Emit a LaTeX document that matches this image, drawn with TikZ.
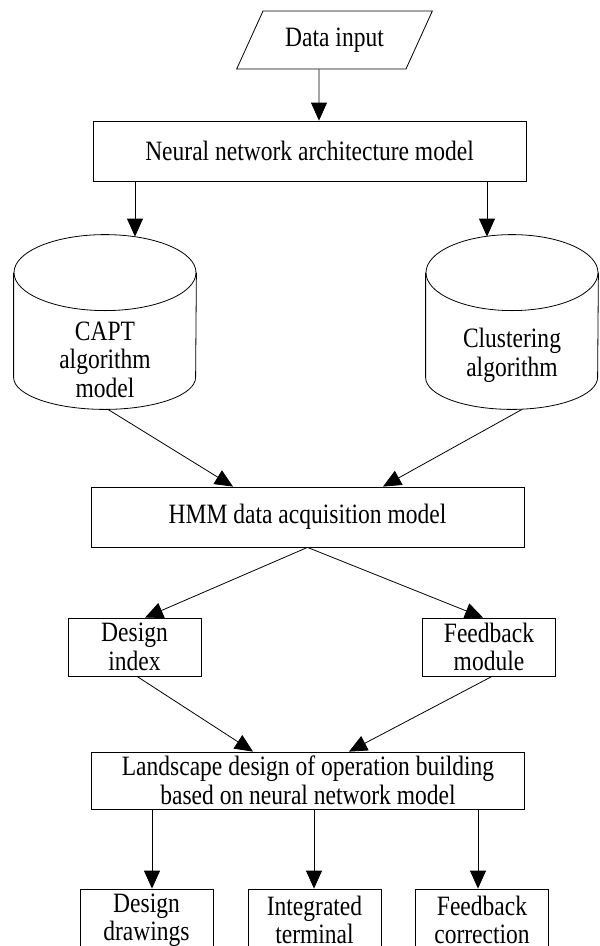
\documentclass[tikz,border=0pt]{standalone}
\usepackage{fontspec}
\setmainfont{Liberation Serif}[FakeStretch=0.84]
\usetikzlibrary{shapes.geometric,arrows.meta}

\begin{document}
\begin{tikzpicture}[x=1pt,y=-1pt,line width=0.8pt,font=\fontsize{28}{28.5}\selectfont,
	box/.style={rectangle,draw,align=center,inner sep=1pt},
	widebox/.style={box,minimum width=433pt,minimum height=60pt},
	smallbox/.style={box,minimum width=133pt,minimum height=58pt},
	iobox/.style={trapezium,draw,trapezium stretches=true,trapezium left angle=55,trapezium right angle=125,minimum width=196pt,minimum height=58pt,inner sep=1pt},
	dbase/.style={rectangle,align=center,inner sep=1pt,minimum height=174pt},
	arr/.style={-{Triangle[width=16pt,length=18pt]}}]
	\useasboundingbox (0,0) rectangle (600,946);
	\clip (0,0) rectangle (600,946);
	\node at (334.5,40) [iobox] (input) {Data input};
	\node at (309.5,151) [widebox] (nn) {Neural network architecture model};
	\node at (105,322) [dbase,minimum width=182pt,text height=150pt,text depth=0pt] (capt) {CAPT\\algorithm\\model};
	\node at (512,322) [dbase,minimum width=172pt,text height=114pt,text depth=6pt] (clus) {Clustering\\algorithm};
	\node at (307.5,517) [widebox] (hmm) {HMM data acquisition model};
	\node at (134.5,647) [smallbox] (index) {Design\\index};
	\node at (489,647) [smallbox] (fback) {Feedback\\module};
	\node at (308,780.5) [widebox,minimum height=57pt] (land) {Landscape design of operation building\\based on neural network model};
	\node at (146.5,920) [smallbox,minimum height=62pt] (draw) {Design\\drawings};
	\node at (314.5,920) [smallbox,minimum height=62pt] (term) {Integrated\\terminal};
	\node at (482,920) [smallbox,minimum height=62pt] (corr) {Feedback\\correction};
	% cylinder outlines
	\draw ([yshift=-38pt]capt.north west) -- ([yshift=32pt]capt.south west) arc[start angle=180,end angle=360,x radius=91pt,y radius=32pt] -- ([yshift=-38pt]capt.north east);
	\draw ([yshift=-38pt]capt.north) ellipse [x radius=91pt,y radius=38pt];
	\draw ([yshift=-38pt]clus.north west) -- ([yshift=32pt]clus.south west) arc[start angle=180,end angle=360,x radius=86pt,y radius=32pt] -- ([yshift=-38pt]clus.north east);
	\draw ([yshift=-38pt]clus.north) ellipse [x radius=86pt,y radius=38pt];
	\draw [arr] ([xshift=-15.5pt]input.south) to ([xshift=9.5pt]nn.north);
	\draw [arr] ([xshift=-174.5pt]nn.south) to ([xshift=30pt,yshift=-2pt]capt.north);
	\draw [arr] ([xshift=177.5pt]nn.south) to ([xshift=-25pt,yshift=-2pt]clus.north);
	\draw [arr] ([xshift=3pt]capt.south) to ([xshift=-74.5pt]hmm.north);
	\draw [arr] ([xshift=10pt]clus.south) to ([xshift=75.5pt]hmm.north);
	\draw [arr] (hmm.south) to ([xshift=10.5pt]index.north);
	\draw [arr] (hmm.south) to ([xshift=-6pt]fback.north);
	\draw [arr] ([xshift=2.5pt]index.south) to ([xshift=-55pt]land.north);
	\draw [arr] ([xshift=3pt]fback.south) to ([xshift=41pt]land.north);
	\draw [arr] ([xshift=-156pt]land.south) to ([xshift=5.5pt]draw.north);
	\draw [arr] ([xshift=6pt]land.south) to ([xshift=-0.5pt]term.north);
	\draw [arr] ([xshift=170pt]land.south) to ([xshift=-4pt]corr.north);
\end{tikzpicture}
\end{document}
